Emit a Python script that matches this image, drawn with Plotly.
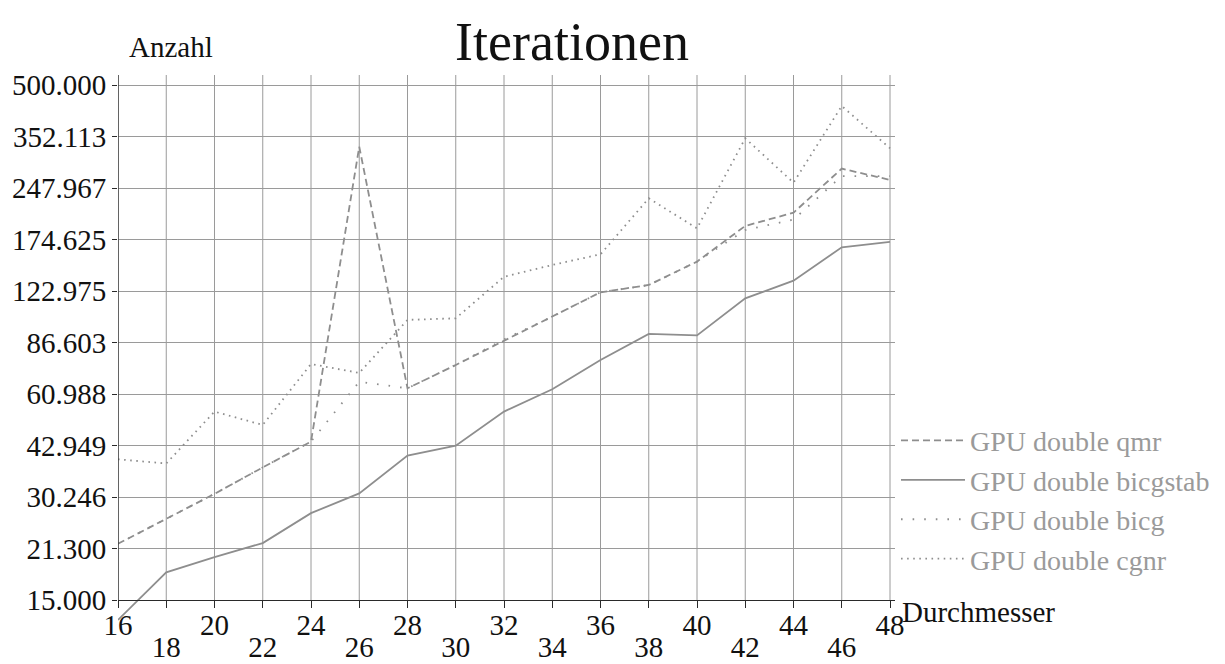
import math
import plotly.graph_objects as go

# ---- data ----
diameters = [16, 18, 20, 22, 24, 26, 28, 30, 32, 34, 36, 38, 40, 42, 44, 46, 48]
qmr = [22.0, 26.0, 30.9, 37.0, 44.1, 328.5, 63.4, 74.3, 87.5, 103.2, 121.9, 128.1, 150.2, 191.5, 209.6, 283.0, 262.0]
bicgstab = [13.1, 18.1, 20.1, 22.1, 27.1, 31.0, 40.1, 42.9, 54.1, 63.0, 76.9, 91.8, 90.9, 117.0, 131.9, 165.6, 171.7]
bicg = [22.0, 26.0, 30.9, 37.0, 44.1, 66.3, 63.4, 74.3, 88.5, 103.2, 121.9, 128.1, 150.2, 186.2, 200.0, 269.0, 269.0]
cgnr = [39.1, 38.0, 54.1, 49.4, 74.8, 70.4, 101.0, 102.1, 135.5, 146.8, 157.9, 231.2, 188.4, 347.9, 257.1, 433.4, 324.9]

y_tick_labels = ["15.000", "21.300", "30.246", "42.949", "60.988", "86.603",
                 "122.975", "174.625", "247.967", "352.113", "500.000"]
x_ticks_row1 = [16, 20, 24, 28, 32, 36, 40, 44, 48]
x_ticks_row2 = [18, 22, 26, 30, 34, 38, 42, 46]

y_tick_vals = [float(t) for t in y_tick_labels]

FONT = "Liberation Serif"
LINE_COLOR = "#8e8e8e"
GRID_COLOR = "#9a9a9a"
AXIS_COLOR = "#2a2a2a"

Y_LO, Y_HI = 1.10217, 2.72854
X_LO, X_HI = 16, 48.207

fig = go.Figure()

series = [
    ("GPU double qmr", qmr, "7px,4px"),
    ("GPU double bicgstab", bicgstab, "solid"),
    ("GPU double bicg", bicg, "1.6px,10px"),
    ("GPU double cgnr", cgnr, "1.6px,4.5px"),
]
for name, vals, dash in series:
    fig.add_trace(go.Scatter(
        x=diameters, y=vals, mode="lines", name=name,
        line=dict(color=LINE_COLOR, width=1.8, dash=dash),
    ))

# vertical grid lines (from the x axis up to the top of the plot)
for xv in diameters:
    fig.add_shape(type="line", xref="x", yref="y", x0=xv, x1=xv,
                  y0=15, y1=10 ** Y_HI, line=dict(color=GRID_COLOR, width=1),
                  layer="below")
# y axis line
fig.add_shape(type="line", xref="x", yref="y", x0=16, x1=16,
              y0=15, y1=10 ** Y_HI, line=dict(color=AXIS_COLOR, width=1.3))

# arrows (annotation y on log axis given as log10)
fig.add_annotation(x=48.42, y=math.log10(15), xref="x", yref="y", ax=-7, ay=0, text="",
                   showarrow=True, arrowhead=2, arrowsize=1, arrowwidth=1,
                   arrowcolor=AXIS_COLOR)
fig.add_annotation(x=16, y=Y_HI + 8 / 338.2, xref="x", yref="y", ax=0, ay=8, text="",
                   showarrow=True, arrowhead=2, arrowsize=1, arrowwidth=1,
                   arrowcolor=AXIS_COLOR)

# axis titles
fig.add_annotation(x=0, y=1, xref="paper", yref="paper", text="Anzahl",
                   showarrow=False, xanchor="left", yanchor="bottom",
                   xshift=9, yshift=10, font=dict(family=FONT, size=29, color="#111"))
fig.add_annotation(x=1, y=math.log10(15), xref="paper", yref="y", text="Durchmesser",
                   showarrow=False, xanchor="left", yanchor="top",
                   xshift=5, yshift=6, font=dict(family=FONT, size=29, color="#111"))

axis_pos = 25 / 550

fig.update_layout(
    width=1225, height=664,
    margin=dict(l=118, r=330, t=75, b=39, autoexpand=False),
    paper_bgcolor="white", plot_bgcolor="white",
    font=dict(family=FONT, size=29, color="#111"),
    title=dict(text="Iterationen", x=572 / 1225, xref="container", xanchor="center",
               y=1 - 41 / 664, yref="container", yanchor="middle",
               font=dict(family=FONT, size=54, color="#111")),
    showlegend=True,
    legend=dict(x=1.0 + 1 / 777, y=0.3805, xanchor="left", yanchor="top",
                font=dict(family=FONT, size=28, color="#9a9a9a"),
                itemwidth=64, tracegroupgap=0, bgcolor="rgba(0,0,0,0)"),
    xaxis=dict(range=[X_LO, X_HI], anchor="free", position=axis_pos, automargin=False,
               showgrid=False, zeroline=False, showline=True,
               linecolor=AXIS_COLOR, linewidth=1.3,
               tickmode="array", tickvals=x_ticks_row1,
               ticktext=[str(v) for v in x_ticks_row1],
               ticks="outside", ticklen=7, tickcolor=AXIS_COLOR, tickwidth=1.3,
               ticklabelstandoff=-8,
               tickfont=dict(family=FONT, size=29, color="#111")),
    xaxis2=dict(matches="x", overlaying="x", anchor="free", position=axis_pos,
                automargin=False,
                showgrid=False, zeroline=False, showline=False,
                tickmode="array", tickvals=x_ticks_row2,
                ticktext=[str(v) for v in x_ticks_row2],
                ticks="outside", ticklen=7, tickcolor=AXIS_COLOR, tickwidth=1.3,
                ticklabelstandoff=14,
                tickfont=dict(family=FONT, size=29, color="#111")),
    yaxis=dict(type="log", range=[Y_LO, Y_HI], showline=False, zeroline=False,
               automargin=False,
               showgrid=True, gridcolor=GRID_COLOR, gridwidth=1,
               tickmode="array", tickvals=y_tick_vals, ticktext=y_tick_labels,
               ticks="outside", ticklen=5, tickcolor=AXIS_COLOR,
               tickfont=dict(family=FONT, size=29, color="#111")),
)

# invisible trace to activate the second x axis (second row of tick labels)
fig.add_trace(go.Scatter(x=[16], y=[15], xaxis="x2", mode="markers",
                         marker=dict(opacity=0), showlegend=False, hoverinfo="skip"))

fig.write_html("out.html")
